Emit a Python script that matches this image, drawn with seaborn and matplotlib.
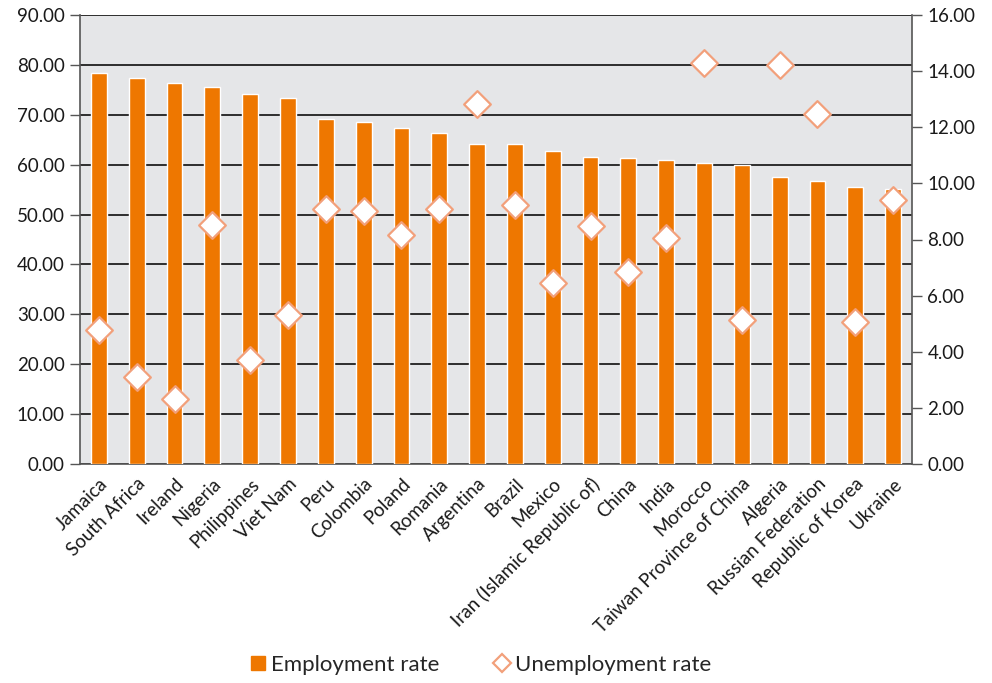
import matplotlib
matplotlib.use("Agg")
import matplotlib.pyplot as plt
import seaborn as sns
import pandas as pd
from matplotlib.lines import Line2D

countries = ["Jamaica", "South Africa", "Ireland", "Nigeria", "Philippines", "Viet Nam",
             "Peru", "Colombia", "Poland", "Romania", "Argentina", "Brazil", "Mexico",
             "Iran (Islamic Republic of)", "China", "India", "Morocco",
             "Taiwan Province of China", "Algeria", "Russian Federation",
             "Republic of Korea", "Ukraine"]
employment = [78.4, 77.4, 76.4, 75.6, 74.1, 73.3, 69.1, 68.5, 67.3, 66.3, 64.1, 64.1,
              62.7, 61.5, 61.3, 60.9, 60.3, 59.9, 57.5, 56.7, 55.5, 55.1]
unemployment = [4.78, 3.10, 2.32, 8.52, 3.71, 5.31, 9.09, 9.02, 8.16, 9.09, 12.83, 9.23,
                6.45, 8.48, 6.84, 8.05, 14.29, 5.13, 14.22, 12.47, 5.06, 9.41]
left_ticks = [0, 10, 20, 30, 40, 50, 60, 70, 80, 90]
right_ticks = [0, 2, 4, 6, 8, 10, 12, 14, 16]

df = pd.DataFrame({"country": countries, "emp": employment, "unemp": unemployment})

sns.set_theme(style="white")
plt.rcParams["font.family"] = ["Lato", "DejaVu Sans"]

BAR = "#EE7700"
EDGE = "#F2A07B"
BG = "#E5E6E8"
TXT = "#1a1a1a"

fig = plt.figure(figsize=(9.92, 6.83), dpi=100)
ax = fig.add_axes([80/992, 1-464/683, 832/992, 449/683])
ax.set_facecolor(BG)

sns.barplot(data=df, x="country", y="emp", color=BAR, width=0.42, ax=ax,
            saturation=1, zorder=3)
ax.set_xlim(-0.5, len(countries)-0.5)
ax.set_ylim(0, 90)
ax.set_yticks(left_ticks)
ax.set_yticklabels([f"{v:.2f}" for v in left_ticks], fontsize=13.5, color=TXT)
ax.yaxis.grid(True, color="#1f1f1f", linewidth=1.3, zorder=1)
ax.set_axisbelow(True)
ax.set_xlabel("")
ax.set_ylabel("")

# category boundary ticks
ax.set_xticks([i - 0.5 for i in range(len(countries)+1)], minor=False)
ax.set_xticklabels([])
ax.tick_params(axis="x", which="major", length=6, width=1, color="#555555", direction="out")
ax.set_xticks(range(len(countries)), minor=True)
ax.set_xticklabels(countries, minor=True, rotation=45, ha="right",
                   rotation_mode="anchor", fontsize=13.5, color=TXT)
ax.tick_params(axis="x", which="minor", length=0, pad=8)
ax.tick_params(axis="y", length=7, width=1, color="#555555", direction="out", left=True, pad=4)

for s in ["top", "right"]:
    ax.spines[s].set_visible(False)
for s in ["left", "bottom"]:
    ax.spines[s].set_color("#555555")
    ax.spines[s].set_linewidth(1.2)

ax2 = ax.twinx()
sns.scatterplot(data=df, x="country", y="unemp", ax=ax2, marker="D", s=185,
                color="white", edgecolor=EDGE, linewidth=1.6, zorder=5)
ax2.set_xlim(-0.5, len(countries)-0.5)
ax2.set_ylim(0, 16)
ax2.set_yticks(right_ticks)
ax2.set_yticklabels([f"{v:.2f}" for v in right_ticks], fontsize=13.5, color=TXT)
ax2.set_ylabel("")
ax2.tick_params(axis="y", length=7, width=1, color="#555555", direction="out", right=True, pad=4)
for s in ["top", "left", "bottom"]:
    ax2.spines[s].set_visible(False)
ax2.spines["right"].set_color("#555555")
ax2.spines["right"].set_linewidth(1.2)

handles = [
    Line2D([0], [0], marker="s", linestyle="none", markersize=10,
           markerfacecolor=BAR, markeredgecolor=BAR),
    Line2D([0], [0], marker="D", linestyle="none", markersize=9.5,
           markerfacecolor="white", markeredgecolor=EDGE, markeredgewidth=1.6),
]
fig.legend(handles, ["Employment rate", "Unemployment rate"], loc="center",
           bbox_to_anchor=(479/992, 1-665/683), ncol=2, frameon=False,
           fontsize=16, handletextpad=0.1, columnspacing=2.3, handlelength=1.0)

fig.savefig("out.png", dpi=100)
